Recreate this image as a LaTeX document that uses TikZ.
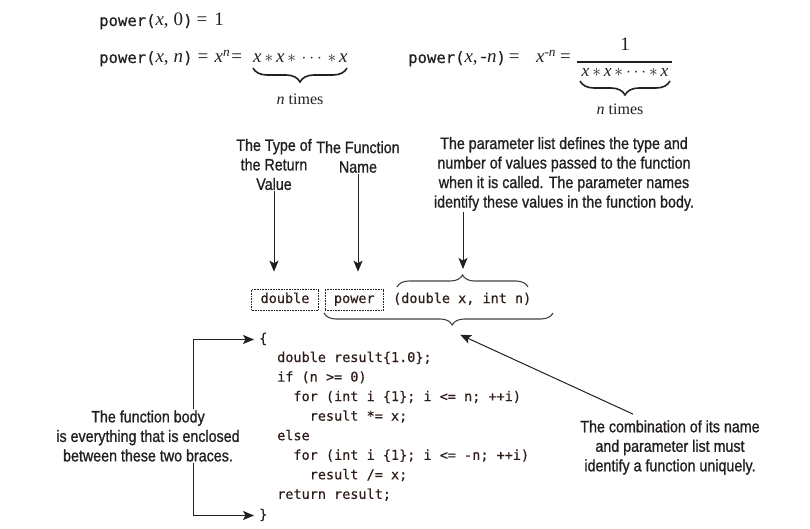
\documentclass[tikz,border=0pt]{standalone}
\usepackage{fontspec}
\setmainfont{Liberation Serif}
\setmonofont[FakeBold=0.4]{DejaVu Sans Mono}
\newfontfamily\lblfont[FakeStretch=0.865,FakeBold=1]{Liberation Sans}
\usetikzlibrary{arrows.meta,calc,positioning,decorations.pathreplacing}

\definecolor{ink}{HTML}{231F20}
\definecolor{codeink}{HTML}{2E1D19}
\newcommand{\eqcode}[1]{{\fontsize{15.6}{18}\selectfont\ttfamily #1}}

\tikzset{
  lbl/.style={font=\lblfont\fontsize{16.5}{19.5}\selectfont, align=center, text=ink, inner sep=1pt},
  eqn/.style={font=\fontsize{19}{21}\selectfont, text=ink, inner sep=0pt},
  code/.style={font=\ttfamily\fontsize{13.5}{19.55}\selectfont, text=codeink, inner sep=0pt,
    text height=10pt, text depth=3pt},
  dotbox/.style={draw=ink, densely dotted, line width=0.6pt, inner xsep=9pt, minimum height=21pt},
  ptr/.style={draw=ink, line width=1pt, -{Stealth[length=11pt,width=9pt,inset=2.5pt]}},
  eqbrace/.style={draw=ink, line width=1.6pt, decorate, decoration={brace, mirror, amplitude=14pt}},
  midbrace/.style={draw=ink!85, line width=1.1pt, decorate, decoration={brace, amplitude=12pt}},
}

\begin{document}
\begin{tikzpicture}[x=1pt,y=1pt]
\useasboundingbox (0,0) rectangle (810,-529);
% formulas at the top
\node[eqn, anchor=base west] (eqzero) at (99,-26)
  {\eqcode{power(}\textit{x},\hspace{5pt}0\eqcode{)}\hspace{4pt}=\hspace{7pt}1};
\node[eqn, anchor=base west] (eqpos) at (99,-63)
  {\eqcode{power(}\textit{x},\hspace{5pt}\textit{n}\eqcode{)}\hspace{5pt}=};
\node[eqn, anchor=base west] (powpos) at ($(eqpos.base east)+(6,0)$)
  {\textit{x}\textsuperscript{\textit{n}}\hspace{1pt}=};
\node[eqn, anchor=base west] (prodpos) at (253,-63)
  {\textit{x}$\,\ast\,$\textit{x}$\,\ast\,\cdots\,\ast\,$\textit{x}};
\draw[eqbrace] (253,-68) -- (347,-68);
\node[eqn, anchor=base, font=\fontsize{16}{19}\selectfont] (ntimespos) at (300,-105) {\textit{n} times};

\node[eqn, anchor=base west] (eqneg) at (408,-63)
  {\eqcode{power(}\textit{x},\hspace{3pt}-\textit{n}\eqcode{)}\hspace{3pt}=};
\node[eqn, anchor=base east] (powneg) at (571,-63) {\textit{x}\textsuperscript{-\textit{n}}\hspace{4pt}=};
\node[eqn, anchor=base] (numer) at (625,-51) {1};
\draw[ink, line width=1.8pt] (577,-62) -- (672,-62);
\node[eqn, anchor=base, font=\fontsize{17.5}{19}\selectfont] (denom) at (625,-77)
  {\textit{x}$\,\ast\,$\textit{x}$\,\ast\cdots\ast\,$\textit{x}};
\draw[eqbrace] (580,-81) -- (670,-81);
\node[eqn, anchor=base, font=\fontsize{16}{19}\selectfont] (ntimesneg) at (620,-115) {\textit{n} times};

% the three labels above the header
\node[lbl] (typelbl) at (274,-164.5) {The Type of\\the Return\\Value};
\node[lbl] (namelbl) at (358,-157) {The Function\\Name};
\node[lbl] (paramlbl) at (564,-174) {The parameter list defines the type and\\
  number of values passed to the function\\when it is called. The parameter names\\
  identify these values in the function body.};

% function header
\node[code, dotbox] (retbox) at (285,-299.5) {double};
\node[code, dotbox, right=6pt of retbox] (namebox) {power};
\node[code, right=9pt of namebox] (parlist) {(double x, int n)};

\draw[midbrace] (397,-287) -- (528,-287);
\coordinate (partip) at (463,-274);
\draw[midbrace, decoration={mirror, aspect=0.56}] (324,-313) -- (553,-313);
\coordinate (sigtip) at (452,-331);

\draw[ptr, shorten >=17pt] (typelbl.south) -- (typelbl.south |- retbox.north);
\draw[ptr, shorten >=17pt] (namelbl.south) -- (namelbl.south |- namebox.north);
\draw[ptr, shorten >=5pt] (paramlbl.south -| partip) -- (partip);

% function body
\node[code, anchor=base west] (lbrace) at (259,-343) {\{};
\foreach \col/\stmt [count=\k] in {0/{double result\{1.0\};}, 0/{if (n >= 0)},
    2/{for (int i \{1\}; i <= n; ++i)}, 4/{result *= x;}, 0/{else},
    2/{for (int i \{1\}; i <= -n; ++i)}, 4/{result /= x;}, 0/{return result;}}
  \node[code, anchor=base west] (stmt\k) at ({277+8.13*\col},{-362-19.55*(\k-1)}) {\stmt};
\node[code, anchor=base west] (rbrace) at (259,-519) {\}};

\node[lbl] (bodylbl) at (148,-436) {The function body\\is everything that is enclosed\\
  between these two braces.};
\coordinate (bodyx) at (193,0);
\draw[ptr, shorten >=5pt] (bodylbl.north -| bodyx) |- (lbrace.west);
\draw[ptr, shorten >=5pt] (bodylbl.south -| bodyx) |- (rbrace.west);

\node[lbl] (combolbl) at (670,-447.5) {The combination of its name\\and parameter list must\\
  identify a function uniquely.};
\draw[ptr, shorten >=9pt] ($(combolbl.north)+(-37,5)$) -- (sigtip);
\end{tikzpicture}
\end{document}
